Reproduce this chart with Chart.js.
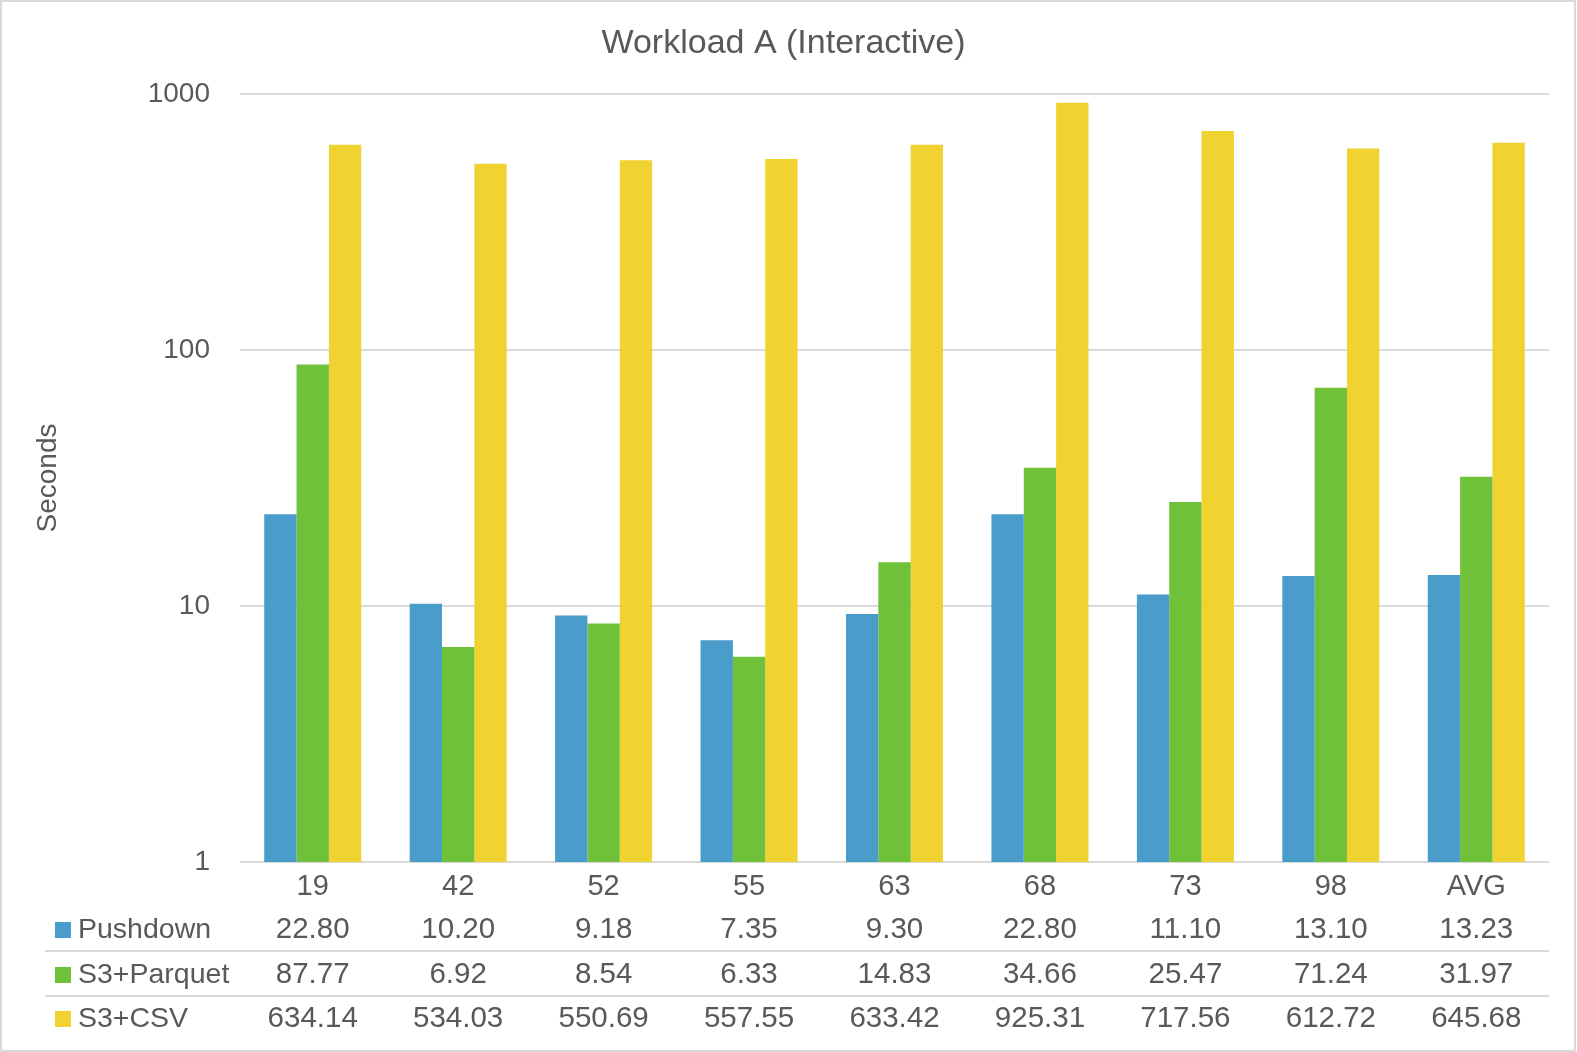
<!DOCTYPE html>
<html>
<head>
<meta charset="utf-8">
<script src="https://cdn.jsdelivr.net/npm/chart.js@4/dist/chart.umd.min.js"></script>
<style>
  html, body { margin: 0; padding: 0; background: #fff; }
  #wrap { position: relative; width: 1577px; height: 1052px; }
</style>
</head>
<body>
<div id="wrap"><canvas id="chart"></canvas></div>
<script>
const categories = ['19', '42', '52', '55', '63', '68', '73', '98', 'AVG'];
const seriesNames = ['Pushdown', 'S3+Parquet', 'S3+CSV'];
const pushdown = [22.80, 10.20, 9.18, 7.35, 9.30, 22.80, 11.10, 13.10, 13.23];
const parquet = [87.77, 6.92, 8.54, 6.33, 14.83, 34.66, 25.47, 71.24, 31.97];
const csv = [634.14, 534.03, 550.69, 557.55, 633.42, 925.31, 717.56, 612.72, 645.68];
const yTicks = [1, 10, 100, 1000];
const titleText = 'Workload A (Interactive)';

const colors = ['#4a9ccb', '#70c13a', '#f0d230'];
const textColor = '#595959';
const lineColor = '#d9d9d9';
const fontFamily = '"Liberation Sans", Arial, sans-serif';

//title centred on the whole canvas, not on the plot
const chartTitle = {
  id: 'chartTitle',
  afterDraw(chart) {
    const { ctx } = chart;
    ctx.save();
    ctx.font = '34px ' + fontFamily;
    ctx.fillStyle = textColor;
    ctx.textAlign = 'center';
    ctx.textBaseline = 'middle';
    ctx.fillText(titleText, chart.width / 2 - 5, 44);
    ctx.restore();
  },
};

//data table under the plot, columns follow the x scale
const dataTable = {
  id: 'dataTable',
  afterDraw(chart) {
    const { ctx, chartArea } = chart;
    const x = chart.scales.x;
    const base = chartArea.bottom;
    const rowY = [base + 68, base + 113, base + 157];
    const sepY = [base + 89, base + 134];

    ctx.save();
    ctx.strokeStyle = lineColor;
    ctx.lineWidth = 2;
    sepY.forEach((y) => {
      ctx.beginPath();
      ctx.moveTo(45, y);
      ctx.lineTo(chartArea.right, y);
      ctx.stroke();
    });

    ctx.textBaseline = 'middle';
    chart.data.datasets.forEach((ds, i) => {
      ctx.fillStyle = ds.backgroundColor;
      ctx.fillRect(55, rowY[i] - 8, 16, 16);
      ctx.fillStyle = textColor;
      ctx.font = '28.5px ' + fontFamily;
      ctx.textAlign = 'left';
      ctx.fillText(ds.label, 78, rowY[i]);
      ctx.font = '29.5px ' + fontFamily;
      ctx.textAlign = 'center';
      ds.data.forEach((v, j) => {
        ctx.fillText(v.toFixed(2), x.getPixelForValue(j), rowY[i]);
      });
    });

    //outer frame
    ctx.strokeStyle = lineColor;
    ctx.lineWidth = 2;
    ctx.strokeRect(1, 1, chart.width - 3, chart.height - 2);
    ctx.restore();
  },
};

const ctx = document.getElementById('chart');
new Chart(ctx, {
  type: 'bar',
  data: {
    labels: categories,
    datasets: [pushdown, parquet, csv].map((d, i) => ({
      label: seriesNames[i],
      data: d,
      backgroundColor: colors[i],
      borderWidth: 0,
      categoryPercentage: 0.667,
      barPercentage: 1.0,
    })),
  },
  options: {
    responsive: true,
    maintainAspectRatio: false,
    animation: false,
    layout: { padding: { left: 0, right: 28, top: 94, bottom: 0 } },
    plugins: {
      legend: { display: false },
      tooltip: { enabled: false },
      title: { display: false },
    },
    scales: {
      x: {
        grid: { display: false, drawTicks: false },
        border: { display: false },
        ticks: {
          color: textColor,
          font: { family: fontFamily, size: 29 },
          padding: 8,
          maxRotation: 0,
        },
        afterFit: (s) => { s.height = 190; },
      },
      y: {
        type: 'logarithmic',
        min: 1,
        max: 1000,
        afterBuildTicks: (s) => { s.ticks = yTicks.map((v) => ({ value: v })); },
        grid: { color: lineColor, lineWidth: 2, drawTicks: false },
        border: { display: false },
        ticks: {
          color: textColor,
          font: { family: fontFamily, size: 28 },
          padding: 30,
          callback: (v) => String(v),
        },
        title: {
          display: true,
          text: 'Seconds',
          color: textColor,
          font: { family: fontFamily, size: 28 },
          padding: { top: 31, bottom: 0 },
        },
        afterFit: (s) => { s.width = 240; },
      },
    },
  },
  plugins: [chartTitle, dataTable],
});
</script>
</body>
</html>
